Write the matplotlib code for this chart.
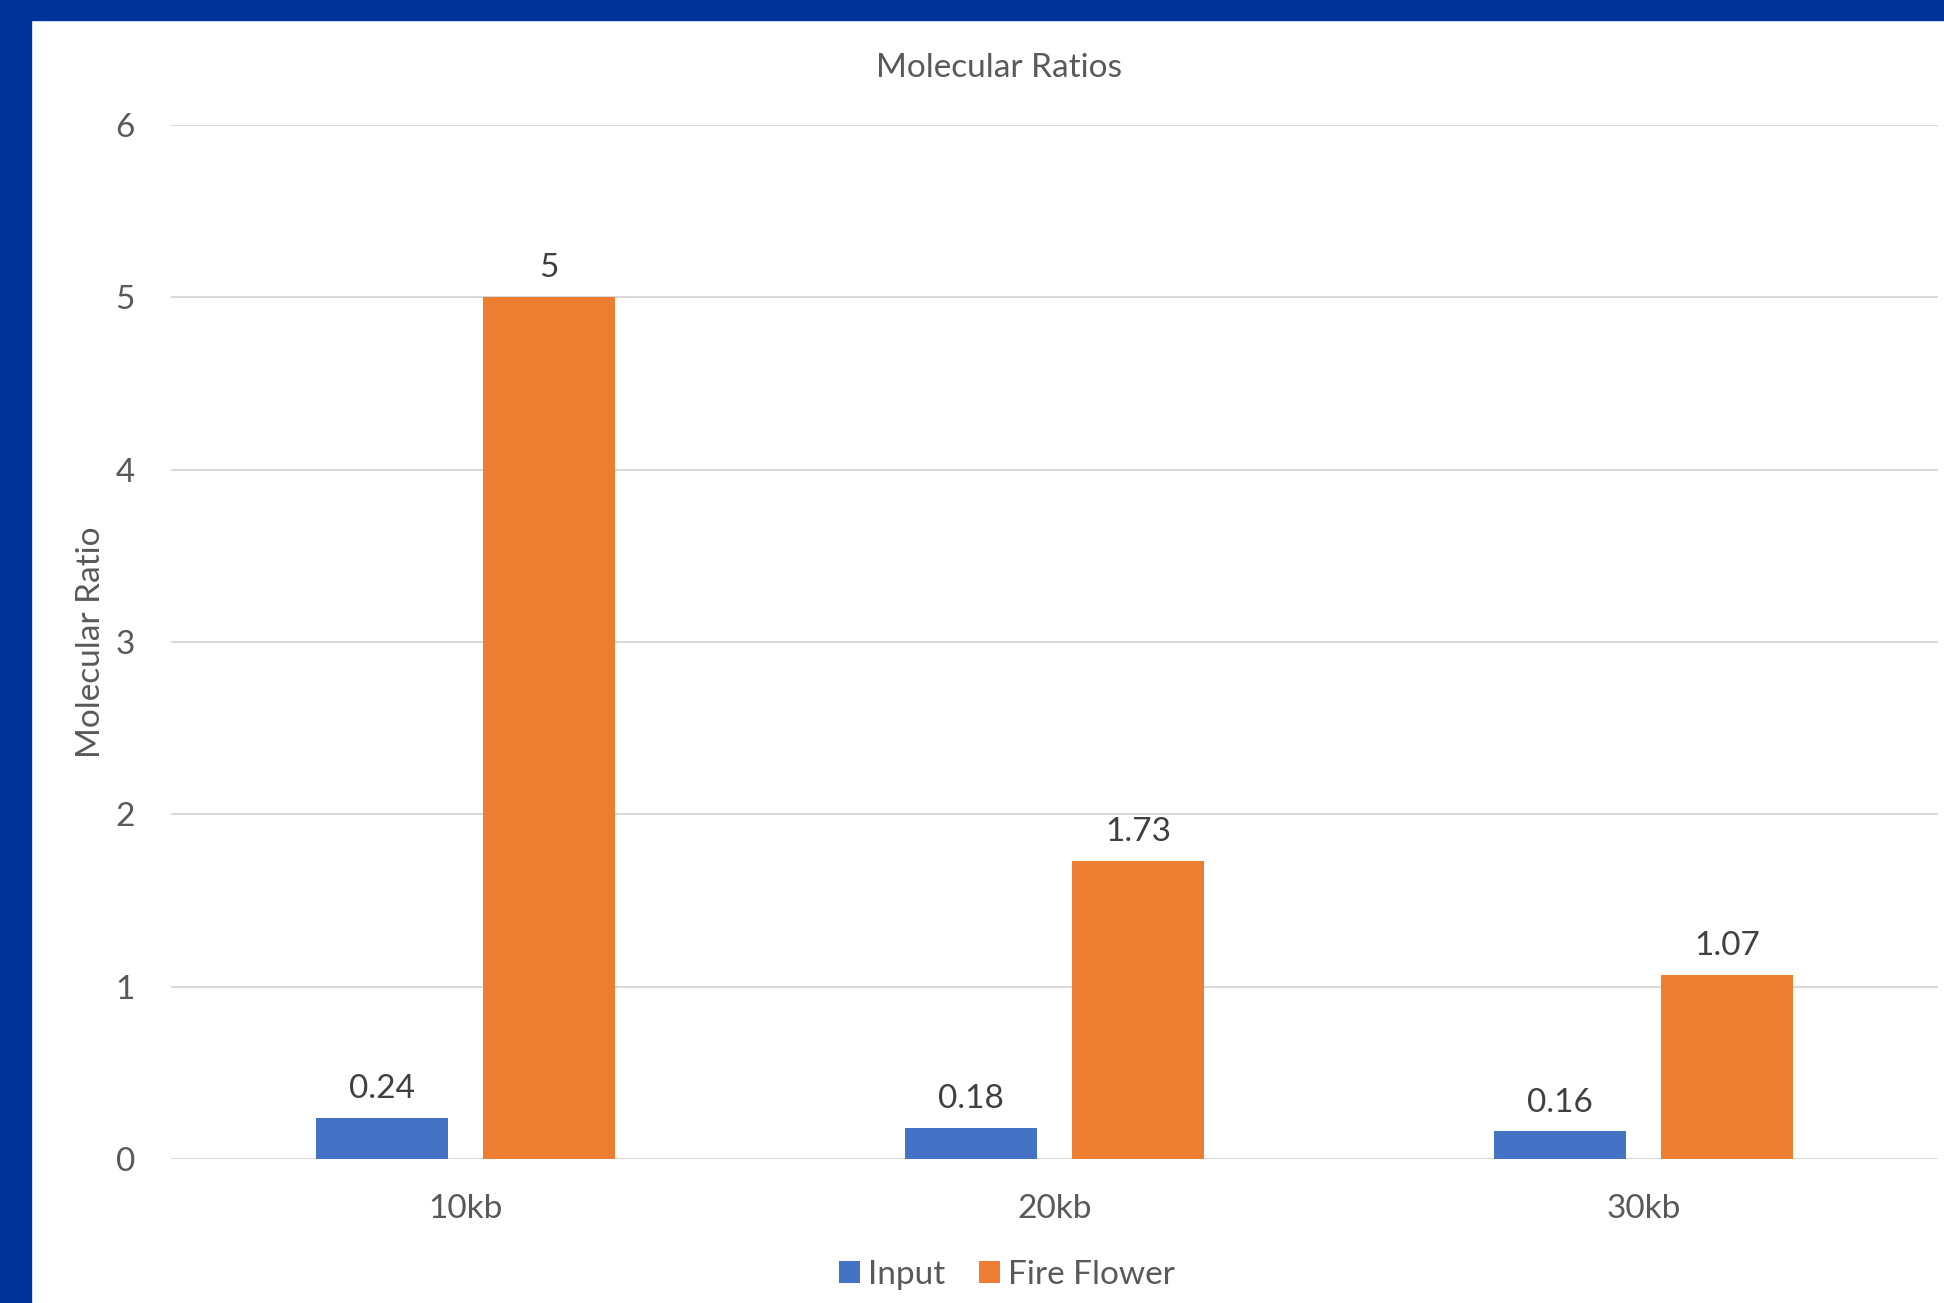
import matplotlib
matplotlib.use("Agg")
import matplotlib.pyplot as plt
from matplotlib.patches import Rectangle
import numpy as np

categories = ["10kb", "20kb", "30kb"]
input_vals = [0.24, 0.18, 0.16]
fire_vals = [5, 1.73, 1.07]
labels_input = ["0.24", "0.18", "0.16"]
labels_fire = ["5", "1.73", "1.07"]
series_names = ["Input", "Fire Flower"]
yticks = [0, 1, 2, 3, 4, 5, 6]

plt.rcParams['font.family'] = ['Lato', 'DejaVu Sans']
TXT = "#595959"
C_IN = "#4472C4"
C_FF = "#ED7D31"
W, H = 1944, 1303

fig = plt.figure(figsize=(W/100, H/100), dpi=100)
fig.patches.append(Rectangle((0, 1-20/H), 1, 20/H, transform=fig.transFigure, color="#003399", zorder=0))
fig.patches.append(Rectangle((0, 0), 31/W, 1, transform=fig.transFigure, color="#003399", zorder=0))

ax = fig.add_axes([171/W, 1-1159/H, (1938-171)/W, (1159-125)/H])
x = np.arange(len(categories))
bw = 0.223
off = 0.142
b1 = ax.bar(x - off, input_vals, bw, color=C_IN, label=series_names[0], zorder=3)
b2 = ax.bar(x + off, fire_vals, bw, color=C_FF, label=series_names[1], zorder=3)

for rect, lab in zip(b1, labels_input):
    ax.annotate(lab, (rect.get_x()+rect.get_width()/2, rect.get_height()), xytext=(0, 10),
                textcoords="offset points", ha="center", va="bottom", fontsize=24, color="#404040")
for rect, lab in zip(b2, labels_fire):
    ax.annotate(lab, (rect.get_x()+rect.get_width()/2, rect.get_height()), xytext=(0, 10),
                textcoords="offset points", ha="center", va="bottom", fontsize=24, color="#404040")

ax.set_xlim(-0.5, 2.5)
ax.set_ylim(0, 6)
ax.set_yticks(yticks)
ax.set_yticklabels([str(t) for t in yticks])
ax.set_xticks(x)
ax.set_xticklabels(categories)
ax.tick_params(axis='both', length=0, labelsize=24, labelcolor=TXT)
ax.tick_params(axis='y', pad=26)
ax.tick_params(axis='x', pad=25)
for s in ax.spines.values():
    s.set_visible(False)
ax.yaxis.grid(True, color="#D9D9D9", linewidth=1.5, zorder=0)
ax.set_axisbelow(True)
ax.set_ylabel("Molecular Ratio", fontsize=24, color=TXT, labelpad=7)
fig.text(999/W, 1-68/H, "Molecular Ratios", ha="center", va="center", fontsize=24, color=TXT)
leg = fig.legend(loc="center", bbox_to_anchor=(1007/W, 1-1275/H), ncol=2, frameon=False,
                 fontsize=24, handlelength=0.62, handleheight=0.62, handletextpad=0.25, columnspacing=1.0,
                 labelcolor=TXT)
fig.savefig("out.png", dpi=100, facecolor="white")
